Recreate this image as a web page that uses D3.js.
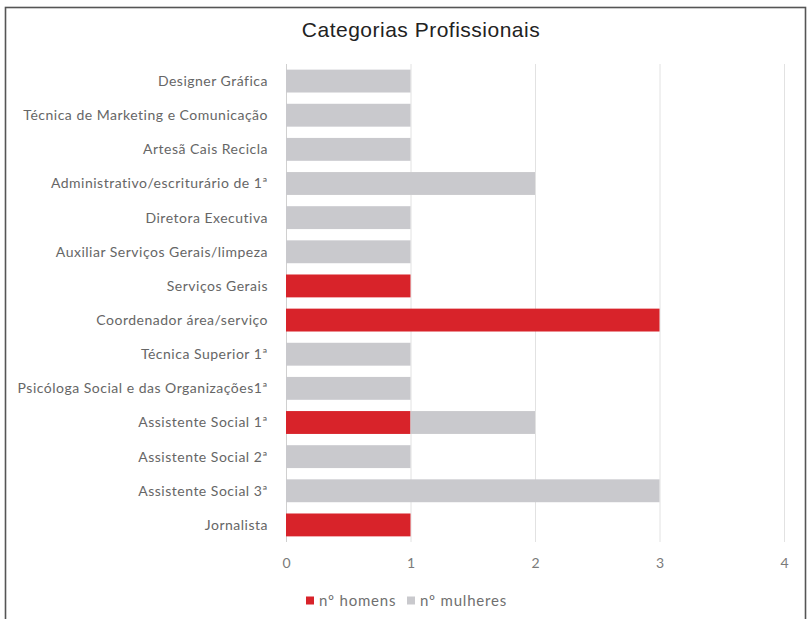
<!DOCTYPE html>
<html>
<head>
<meta charset="utf-8">
<script src="https://cdn.jsdelivr.net/npm/d3@7"></script>
<style>
  html, body { margin: 0; padding: 0; background: #ffffff; }
  svg { display: block; }
</style>
</head>
<body>
<svg id="chart" width="811" height="619"></svg>
<script>
// Categories, top to bottom
const categories = [
  "Designer Gráfica",
  "Técnica de Marketing e Comunicação",
  "Artesã Cais Recicla",
  "Administrativo/escriturário de 1ª",
  "Diretora Executiva",
  "Auxiliar Serviços Gerais/limpeza",
  "Serviços Gerais",
  "Coordenador área/serviço",
  "Técnica Superior 1ª",
  "Psicóloga Social e das Organizações1ª",
  "Assistente Social 1ª",
  "Assistente Social 2ª",
  "Assistente Social 3ª",
  "Jornalista"
];
const homens   = [0, 0, 0, 0, 0, 0, 1, 3, 0, 0, 1, 0, 0, 1];
const mulheres = [1, 1, 1, 2, 1, 1, 0, 0, 1, 1, 1, 1, 3, 0];
const seriesNames = ["nº homens", "nº mulheres"];
const xTicks = [0, 1, 2, 3, 4];
const chartTitle = "Categorias Profissionais";

const colors = ["#d8232a", "#c9c9cd"];

const svg = d3.select("#chart");
const W = 811, H = 619;
const margin = { left: 286, right: 27, top: 64, bottom: 77 };

// Outer frame
svg.append("rect")
  .attr("x", 5.5).attr("y", 7.5)
  .attr("width", 800).attr("height", 640)
  .attr("fill", "#ffffff")
  .attr("stroke", "#555555").attr("stroke-width", 1.6);

const x = d3.scaleLinear().domain([0, 4]).range([margin.left, W - margin.right]);
const y = d3.scaleBand().domain(categories)
  .range([margin.top, H - margin.bottom])
  .paddingInner(0.33).paddingOuter(0.165);

// Vertical gridlines
svg.append("g")
  .selectAll("line")
  .data(xTicks)
  .join("line")
  .attr("x1", d => x(d) + 0.5).attr("x2", d => x(d) + 0.5)
  .attr("y1", margin.top).attr("y2", H - margin.bottom)
  .attr("stroke", d => d === 0 ? "#d0d0d0" : "#e2e2e2")
  .attr("stroke-width", 1);

// Stacked bars
const rows = categories.map((c, i) => ({ c, v: [homens[i], mulheres[i]] }));
const stack = d3.stack().keys([0, 1]).value((d, k) => d.v[k]);
const stacked = stack(rows);

svg.append("g")
  .selectAll("g")
  .data(stacked)
  .join("g")
  .attr("fill", (d, i) => colors[i])
  .selectAll("rect")
  .data(d => d.filter(p => p[1] - p[0] > 0))
  .join("rect")
  .attr("x", p => x(p[0]))
  .attr("width", p => x(p[1]) - x(p[0]))
  .attr("y", p => y(p.data.c))
  .attr("height", y.bandwidth());

// Category labels
svg.append("g")
  .selectAll("text")
  .data(categories)
  .join("text")
  .attr("x", 268)
  .attr("y", d => y(d) + y.bandwidth() / 2)
  .attr("dy", "0.35em")
  .attr("text-anchor", "end")
  .attr("font-family", "Lato, 'Open Sans', sans-serif")
  .attr("font-size", 14)
  .attr("letter-spacing", 0.5)
  .attr("fill", "#666666")
  .text(d => d);

// X axis tick labels
const xAxis = d3.axisBottom(x).tickValues(xTicks).tickSize(0).tickPadding(0).tickFormat(d3.format("d"));
const gx = svg.append("g")
  .attr("transform", `translate(0, ${H - margin.bottom + 21})`)
  .call(xAxis);
gx.select(".domain").remove();
gx.selectAll("text")
  .attr("font-family", "Lato, 'Open Sans', sans-serif")
  .attr("font-size", 14)
  .attr("fill", "#7a7a7a")
  .attr("dy", "0.35em");

// Title
svg.append("text")
  .attr("x", 421).attr("y", 37)
  .attr("text-anchor", "middle")
  .attr("font-family", "'Liberation Sans', Arial, sans-serif")
  .attr("font-size", 21)
  .attr("letter-spacing", 0.5)
  .attr("fill", "#222222")
  .text(chartTitle);

// Legend
const legendItems = [
  { name: seriesNames[0], color: colors[0], x: 306 },
  { name: seriesNames[1], color: colors[1], x: 407 }
];
const lg = svg.append("g").selectAll("g").data(legendItems).join("g")
  .attr("transform", d => `translate(${d.x}, 601)`);
lg.append("rect")
  .attr("x", 0).attr("y", -4.5)
  .attr("width", 8).attr("height", 8)
  .attr("fill", d => d.color);
lg.append("text")
  .attr("x", 13).attr("y", 0)
  .attr("dy", "0.35em")
  .attr("font-family", "Lato, 'Open Sans', sans-serif")
  .attr("font-size", 15)
  .attr("letter-spacing", 0.8)
  .attr("fill", "#707070")
  .text(d => d.name);
</script>
</body>
</html>
